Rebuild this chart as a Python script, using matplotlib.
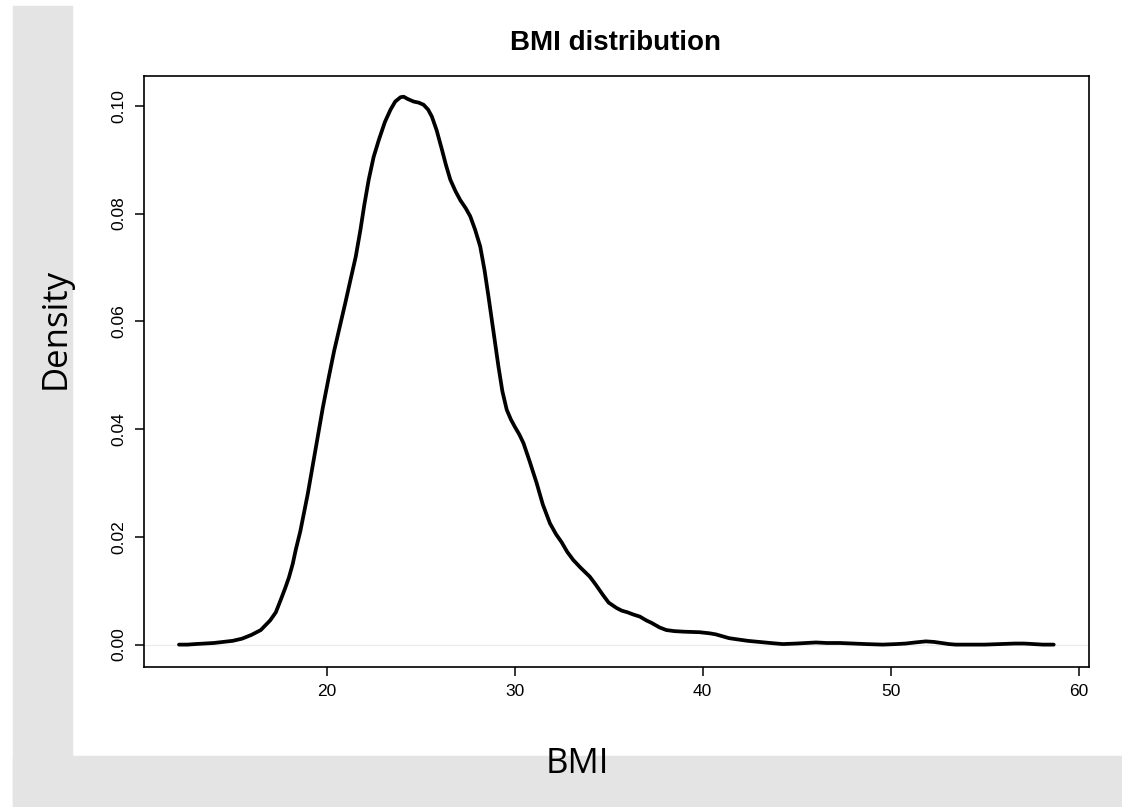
import matplotlib
matplotlib.use('Agg')
import matplotlib.pyplot as plt
from matplotlib.patches import Rectangle

# values
bmi = [12.15, 12.6, 13.0, 13.5, 14.0, 14.5, 15.0, 15.5, 16.0, 16.5,
       17.0, 17.3, 17.56, 17.8, 18.0, 18.2, 18.36, 18.6, 18.8, 19.0,
       19.25, 19.5, 19.8, 20.12, 20.4, 20.7, 21.0, 21.27, 21.55, 21.8,
       22.0, 22.24, 22.5, 22.78, 23.1, 23.4, 23.65, 23.93, 24.1, 24.3,
       24.63, 24.9, 25.16, 25.4, 25.6, 25.85, 26.14, 26.35, 26.58, 26.85,
       27.11, 27.4, 27.64, 27.9, 28.17, 28.4, 28.61, 28.9, 29.14, 29.35,
       29.58, 29.8, 30.0, 30.25, 30.47, 30.8, 31.17, 31.5, 31.88, 32.2,
       32.5, 32.8, 33.12, 33.5, 34.0, 34.3, 34.7, 35.0, 35.42, 35.7,
       36.0, 36.3, 36.66, 37.0, 37.3, 37.7, 38.07, 38.5, 39.0, 39.84,
       40.37, 40.7, 41.0, 41.4, 41.79, 42.4, 43.0, 43.6, 44.26, 45.0,
       45.5, 46.03, 46.6, 47.3, 48.0, 48.68, 49.57, 50.3, 50.8, 51.3,
       51.87, 52.3, 52.7, 53.1, 53.46, 54.2, 55.0, 55.8, 56.6, 57.1,
       57.6, 58.1, 58.67]
density = [0.0, 0.0, 0.0001, 0.0002, 0.0003, 0.0005, 0.0007, 0.0011, 0.0018, 0.0027,
           0.0045, 0.006, 0.0083, 0.0105, 0.0125, 0.015, 0.0176, 0.021, 0.0245, 0.028,
           0.033, 0.038, 0.044, 0.0497, 0.0545, 0.059, 0.0635, 0.0677, 0.072, 0.077,
           0.0815, 0.0863, 0.0905, 0.0937, 0.097, 0.0993, 0.1008, 0.1016, 0.1017, 0.1013,
           0.1008, 0.1006, 0.1002, 0.0993, 0.098, 0.0955, 0.0918, 0.089, 0.0863, 0.0842,
           0.0825, 0.081, 0.0795, 0.077, 0.0739, 0.0695, 0.0646, 0.0575, 0.0516, 0.047,
           0.0436, 0.0418, 0.0405, 0.039, 0.0374, 0.034, 0.030, 0.026, 0.0225, 0.0205,
           0.019, 0.0172, 0.0157, 0.0143, 0.0126, 0.0112, 0.0092, 0.0078, 0.0068, 0.0063,
           0.006, 0.0056, 0.0052, 0.0045, 0.004, 0.0032, 0.0027, 0.0025, 0.0024, 0.0023,
           0.0021, 0.0019, 0.0016, 0.0012, 0.001, 0.0007, 0.0005, 0.0003, 0.0001, 0.0002,
           0.0003, 0.0004, 0.0003, 0.0003, 0.0002, 0.0001, 0.0, 0.0001, 0.0002, 0.0004,
           0.0006, 0.0005, 0.0003, 0.0001, 0.0, 0.0, 0.0, 0.0001, 0.0002, 0.0002,
           0.0001, 0.0, 0.0]

xticks = [20, 30, 40, 50, 60]
yticks = [0.00, 0.02, 0.04, 0.06, 0.08, 0.10]

fig = plt.figure(figsize=(11.22, 8.07), dpi=100, facecolor='white')

# grey L-shaped backdrop
grey = '#e4e4e4'
fig.patches.append(Rectangle((13/1122, 0), 59/1122, 1 - 6/807, transform=fig.transFigure,
                             color=grey, zorder=0))
fig.patches.append(Rectangle((13/1122, 0), 1 - 13/1122, 51/807, transform=fig.transFigure,
                             color=grey, zorder=0))

ax = fig.add_axes([144/1122, 1 - 666.7/807, (1088.7 - 144)/1122, (666.7 - 75.7)/807])
ax.axhline(0, color='#ebebeb', lw=0.9, zorder=1)
ax.plot(bmi, density, color='black', lw=2.7, solid_joinstyle='round',
        solid_capstyle='round', zorder=2)

rng = max(bmi) - min(bmi)
ax.set_xlim(min(bmi) - 0.04 * rng, max(bmi) + 0.04 * rng)
ax.set_ylim(-0.0041, 0.1056)

ax.set_xticks(xticks)
ax.set_xticklabels([str(t) for t in xticks])
ax.set_yticks(yticks)
ax.set_yticklabels(['%.2f' % t for t in yticks])

for s in ax.spines.values():
    s.set_linewidth(1.2)
ax.tick_params(direction='out', length=6.5, width=1.1, pad=6,
               labelsize=12.5, colors='black')
for lab in ax.get_xticklabels() + ax.get_yticklabels():
    lab.set_family('Liberation Sans')
for lab in ax.get_yticklabels():
    lab.set_rotation(90)
    lab.set_va('center')
    lab.set_ha('right')

fig.text(616/1122, 1 - 50/807, 'BMI distribution', ha='center', va='baseline',
         fontsize=20, fontweight='bold', family='Liberation Sans')
fig.text(55.5/1122, 1 - 329/807, 'Density', rotation=90, ha='center', va='center',
         fontsize=25, family='Open Sans')
fig.text(577.5/1122, 1 - 773/807, 'BMI', ha='center', va='baseline',
         fontsize=25, family='Open Sans')

fig.savefig('out.png', dpi=100, facecolor='white')
